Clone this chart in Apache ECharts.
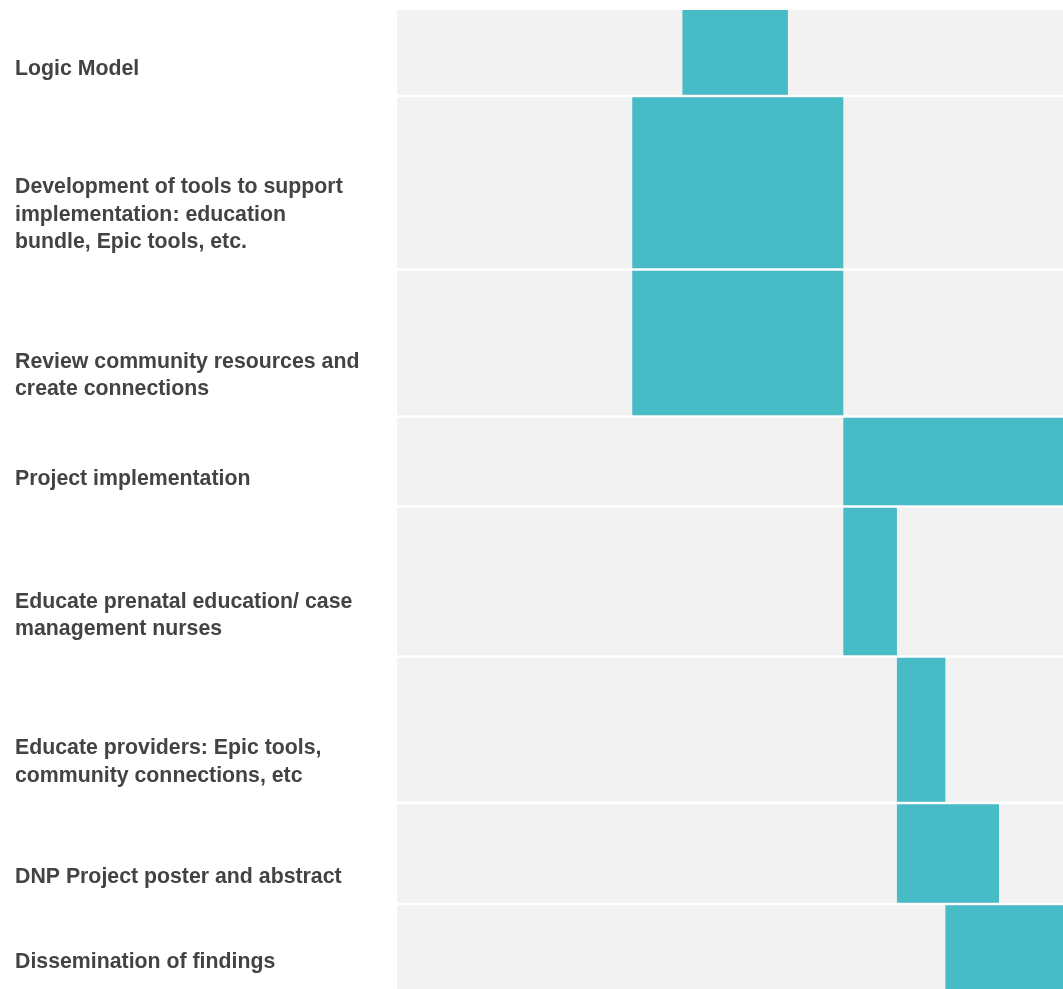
<!DOCTYPE html>
<html>
<head>
<meta charset="utf-8">
<script src="https://cdn.jsdelivr.net/npm/echarts@6/dist/echarts.min.js"></script>
<style>
  html, body { margin: 0; padding: 0; background: #fff; }
  #timeline { width: 1063px; height: 989px; }
</style>
</head>
<body>
<div id="timeline"></div>
<script>
// task list
const tasks = [
    'Logic Model',
    'Development of tools to support\nimplementation: education\nbundle, Epic tools, etc.',
    'Review community resources and\ncreate connections',
    'Project implementation',
    'Educate prenatal education/ case\nmanagement nurses',
    'Educate providers: Epic tools,\ncommunity connections, etc',
    'DNP Project poster and abstract',
    'Dissemination of findings'
];
const startDates = ['2021-08-30', '2021-08-01', '2021-08-01', '2021-12-01', '2021-12-01', '2022-01-01', '2022-01-01', '2022-01-29'];
const endDates   = ['2021-10-30', '2021-12-01', '2021-12-01', '2022-04-07', '2022-01-01', '2022-01-29', '2022-03-01', '2022-04-07'];
const rangeStart = '2021-03-18';
const rangeEnd = '2022-04-07';

function ganttChart() {
    const chart = echarts.init(document.getElementById('timeline'));

    // row heights in px (layout only)
    const rowHeights = [86, 173.5, 147, 90, 150, 146.5, 101, 85];
    const rowGap = 2.5;
    const last = rowHeights.length - 1;

    let acc = 0;
    const rows = rowHeights.map(function (h) {
        const r = [acc, acc + h];
        acc += h;
        return r;
    });

    const t = s => new Date(s).getTime();

    // inset a row so a thin white line shows between rows
    function rowBox(i, y0, y1) {
        const top = y0 + (i === 0 ? 0 : rowGap / 2);
        const bottom = y1 - (i === last ? 0 : rowGap / 2);
        return [top, bottom - top];
    }

    const bgData = tasks.map((name, i) => [rows[i][0], rows[i][1], i]);
    const barData = tasks.map((name, i) => [t(startDates[i]), t(endDates[i]), rows[i][0], rows[i][1], i]);

    const option = {
        animation: false,
        grid: { left: 397, right: 0, top: 10, bottom: 0 },
        xAxis: {
            type: 'time',
            min: t(rangeStart),
            max: t(rangeEnd),
            show: false
        },
        yAxis: {
            type: 'value',
            inverse: true,
            min: 0,
            max: acc,
            show: false
        },
        series: [
            {
                type: 'custom',
                clip: false,
                silent: true,
                data: bgData,
                encode: { y: [0, 1] },
                renderItem: function (params, api) {
                    const sys = params.coordSys;
                    const y0 = api.coord([t(rangeStart), api.value(0)])[1];
                    const y1 = api.coord([t(rangeStart), api.value(1)])[1];
                    const idx = api.value(2);
                    const box = rowBox(idx, y0, y1);
                    return {
                        type: 'group',
                        children: [
                            {
                                type: 'rect',
                                shape: { x: sys.x, y: box[0], width: sys.width, height: box[1] },
                                style: { fill: '#f2f2f2' }
                            },
                            {
                                type: 'text',
                                x: 15,
                                y: y1 - 13.5,
                                style: {
                                    text: tasks[idx],
                                    fill: '#434343',
                                    font: 'bold 21.3px "Liberation Sans", Arial, sans-serif',
                                    lineHeight: 27.5,
                                    verticalAlign: 'bottom',
                                    align: 'left'
                                }
                            }
                        ]
                    };
                }
            },
            {
                type: 'custom',
                silent: true,
                data: barData,
                encode: { x: [0, 1], y: [2, 3] },
                renderItem: function (params, api) {
                    const p0 = api.coord([api.value(0), api.value(2)]);
                    const p1 = api.coord([api.value(1), api.value(3)]);
                    const box = rowBox(api.value(4), p0[1], p1[1]);
                    return {
                        type: 'rect',
                        shape: { x: p0[0], y: box[0], width: p1[0] - p0[0], height: box[1] },
                        style: { fill: '#48bcc6' }
                    };
                }
            }
        ]
    };

    option && chart.setOption(option);
}

ganttChart();
</script>
</body>
</html>
